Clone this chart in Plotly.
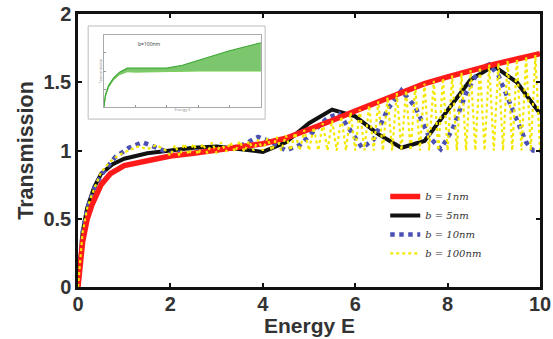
import plotly.graph_objects as go

# ---------------- data ----------------
red_E = [0, 0.05, 0.1, 0.2, 0.3, 0.5, 0.7, 1.0, 1.5, 2.0, 2.5, 3.0, 3.5, 4.0, 4.5,
         5.0, 5.5, 6.0, 6.5, 7.0, 7.5, 8.0, 8.5, 9.0, 9.5, 10.0]
red_T = [0, 0.2, 0.33, 0.5, 0.6, 0.75, 0.83, 0.89, 0.93, 0.96, 0.98, 1.0, 1.02, 1.05, 1.09,
         1.15, 1.22, 1.29, 1.36, 1.43, 1.49, 1.54, 1.59, 1.63, 1.67, 1.71]

black_E = [0, 0.1, 0.2, 0.35, 0.5, 0.75, 1.0, 1.5, 2.0, 2.5, 3.0, 3.5, 4.0, 4.5, 5.0,
           5.5, 6.0, 6.5, 7.0, 7.5, 8.0, 8.5, 9.0, 9.5, 10.0]
black_T = [0, 0.4, 0.58, 0.73, 0.83, 0.9, 0.94, 0.98, 1.0, 1.02, 1.03, 1.01, 0.99, 1.06, 1.2,
           1.3, 1.25, 1.12, 1.02, 1.07, 1.3, 1.52, 1.62, 1.5, 1.27]

blue_E = [0, 0.1, 0.2, 0.35, 0.5, 0.8, 1.1, 1.4, 1.7, 2.0, 2.5, 3.0, 3.5, 3.9, 4.2, 4.5,
          4.8, 5.1, 5.4, 5.65, 5.9, 6.15, 6.4, 6.7, 7.0, 7.3, 7.6, 7.85, 8.1, 8.4, 8.7,
          8.9, 9.1, 9.4, 9.7, 9.85, 10.0]
blue_T = [0, 0.4, 0.57, 0.72, 0.82, 0.95, 1.02, 1.06, 1.02, 0.98, 0.99, 1.0, 1.03, 1.1, 1.06, 1.0,
          1.04, 1.14, 1.24, 1.27, 1.15, 1.02, 1.08, 1.3, 1.44, 1.32, 1.1, 1.01, 1.15, 1.42, 1.6,
          1.63, 1.55, 1.3, 1.06, 1.0, 1.0]

yellow_E = [0.0, 0.1, 0.2, 0.35, 0.5, 0.7, 0.9, 1.1, 1.3, 1.5, 1.7, 1.9,
            2.0, 2.1, 2.2, 2.3, 2.4, 2.5, 2.6, 2.7, 2.8, 2.9,
            3.0, 3.1, 3.2, 3.3, 3.4, 3.5, 3.6, 3.7, 3.8, 3.9,
            4.0, 4.1, 4.2, 4.3, 4.4, 4.5, 4.6, 4.7, 4.8, 4.9,
            5.0, 5.1, 5.2, 5.3, 5.4, 5.5, 5.6, 5.7, 5.8, 5.9,
            6.0, 6.1, 6.2, 6.3, 6.4, 6.5, 6.6, 6.7, 6.8, 6.9,
            7.0, 7.1, 7.2, 7.3, 7.4, 7.5, 7.6, 7.7, 7.8, 7.9,
            8.0, 8.1, 8.2, 8.3, 8.4, 8.5, 8.6, 8.7, 8.8, 8.9,
            9.0, 9.1, 9.2, 9.3, 9.4, 9.5, 9.6, 9.7, 9.8, 9.9, 10.0]
yellow_T = [0.0, 0.4, 0.58, 0.72, 0.84, 0.92, 0.97, 1.0, 1.03, 1.01, 1.04, 1.0,
            0.96, 1.04, 0.96, 1.05, 0.97, 1.05, 0.97, 1.05, 0.98, 1.06,
            0.98, 1.06, 0.99, 1.06, 0.99, 1.07, 0.99, 1.07, 1.0, 1.08,
            1.0, 1.09, 1.0, 1.1, 1.0, 1.11, 1.0, 1.13, 1.0, 1.15,
            1.0, 1.17, 1.0, 1.2, 1.0, 1.22, 1.0, 1.25, 1.0, 1.28,
            1.0, 1.3, 1.0, 1.33, 1.0, 1.36, 1.0, 1.39, 1.0, 1.42,
            1.0, 1.44, 1.0, 1.47, 1.0, 1.49, 1.0, 1.51, 1.0, 1.53,
            1.0, 1.55, 1.0, 1.57, 1.0, 1.59, 1.0, 1.61, 1.0, 1.63,
            1.0, 1.64, 1.0, 1.66, 1.0, 1.67, 1.0, 1.69, 1.0, 1.7, 1.0]

inset_E = [0, 0.1, 0.3, 0.6, 1.0, 1.5, 2.0, 3.0, 4.0, 5.0, 6.0, 7.0, 8.0, 9.0, 10.0]
inset_upper = [0, 0.35, 0.6, 0.8, 0.97, 1.08, 1.08, 1.07, 1.08, 1.16, 1.3, 1.44, 1.56, 1.67, 1.78]
inset_lower = [0, 0.3, 0.55, 0.75, 0.9, 0.98, 0.97, 0.98, 1.0, 1.0, 1.0, 1.0, 1.0, 1.0, 1.0]

x_ticks = [0, 2, 4, 6, 8, 10]
y_ticks = [0, 0.5, 1, 1.5, 2]
y_tick_text = ["0", "0.5", "1", "1.5", "2"]
legend_names = ["b = 1nm", "b = 5nm", "b = 10nm", "b = 100nm"]

# ---------------- figure ----------------
fig = go.Figure()

fig.add_trace(go.Scatter(x=black_E, y=black_T, mode="lines", name=legend_names[1],
                         line=dict(color="#111111", width=4), legendrank=2))
fig.add_trace(go.Scatter(x=blue_E, y=blue_T, mode="lines", name=legend_names[2],
                         line=dict(color="#4b50b4", width=4.5, dash="dot"), legendrank=3))
fig.add_trace(go.Scatter(x=red_E, y=red_T, mode="lines", name=legend_names[0],
                         line=dict(color="#ff1a1a", width=5.5), legendrank=1))
fig.add_trace(go.Scatter(x=yellow_E, y=yellow_T, mode="lines", name=legend_names[3],
                         line=dict(color="#f5e800", width=2.2, dash="dot"), legendrank=4))

# inset
fig.add_trace(go.Scatter(x=inset_E, y=inset_lower, mode="lines", xaxis="x2", yaxis="y2",
                         line=dict(color="#7ccf5a", width=1), showlegend=False))
fig.add_trace(go.Scatter(x=inset_E, y=inset_upper, mode="lines", xaxis="x2", yaxis="y2",
                         line=dict(color="#3aa832", width=1.2), fill="tonexty",
                         fillcolor="rgba(80,180,60,0.75)", showlegend=False))

tick_font = dict(family="Liberation Sans, Arial, sans-serif", size=20, color="#333333",
                 weight="bold")
xtitle_font = dict(family="Liberation Sans, Arial, sans-serif", size=21, color="#333333",
                   weight="bold")
ytitle_font = dict(family="Liberation Sans, Arial, sans-serif", size=21.5, color="#333333",
                   weight="bold")

fig.update_layout(
    width=553, height=339,
    margin=dict(l=78, r=13, t=14, b=52),
    paper_bgcolor="white", plot_bgcolor="white",
    xaxis=dict(range=[0, 10], tickvals=x_ticks, ticks="inside", ticklen=4, tickwidth=2,
               tickcolor="#111", showline=True, linecolor="#111", linewidth=2.5,
               mirror="ticks", showgrid=False, zeroline=False, tickfont=tick_font,
               automargin=False, ticklabelstandoff=-3),
    yaxis=dict(range=[0, 2], tickvals=y_ticks, ticktext=y_tick_text, ticks="inside",
               ticklen=4, tickwidth=2, tickcolor="#111", showline=True, linecolor="#111",
               linewidth=2.5, mirror="ticks", showgrid=False, zeroline=False,
               automargin=False,
               tickfont=tick_font, title=dict(text="Transmission", font=ytitle_font, standoff=4)),
    xaxis2=dict(domain=[0.056, 0.396], anchor="y2", range=[0, 10],
                tickvals=[0, 2, 4, 6, 8, 10], ticks="inside", ticklen=2, tickcolor="#999",
                showline=True, linecolor="#aaa", linewidth=1, mirror=True,
                showgrid=False, zeroline=False, showticklabels=False,
                title=dict(text="Energy E", font=dict(size=4, color="#888"), standoff=0)),
    yaxis2=dict(domain=[0.658, 0.924], anchor="x2", range=[0, 2],
                tickvals=[0.5, 1, 1.5], ticks="inside", ticklen=2, tickcolor="#999",
                showline=True, linecolor="#aaa", linewidth=1, mirror=True,
                showgrid=False, zeroline=False, showticklabels=False,
                title=dict(text="Transmission", font=dict(size=4, color="#888"), standoff=0)),
    legend=dict(x=0.665, y=0.385, xanchor="left", yanchor="top", traceorder="normal",
                bgcolor="rgba(255,255,255,0)", borderwidth=0,
                font=dict(family="DejaVu Serif, serif", size=10, color="#333",
                          style="italic"),
                tracegroupgap=0),
    shapes=[dict(type="rect", xref="paper", yref="paper", x0=0.022, x1=0.405,
                 y0=0.615, y1=0.956, line=dict(color="#bbbbbb", width=1),
                 fillcolor="white", layer="below")],
    annotations=[
        dict(text="Energy E", xref="paper", yref="paper", x=0.5, y=0,
             yshift=-52, xanchor="center", yanchor="bottom", showarrow=False,
             font=xtitle_font),
        dict(text="b=100nm", xref="x2", yref="y2", x=2.9, y=1.75,
             showarrow=False, font=dict(size=5, color="#333")),
    ],
)

fig.write_html("out.html")
